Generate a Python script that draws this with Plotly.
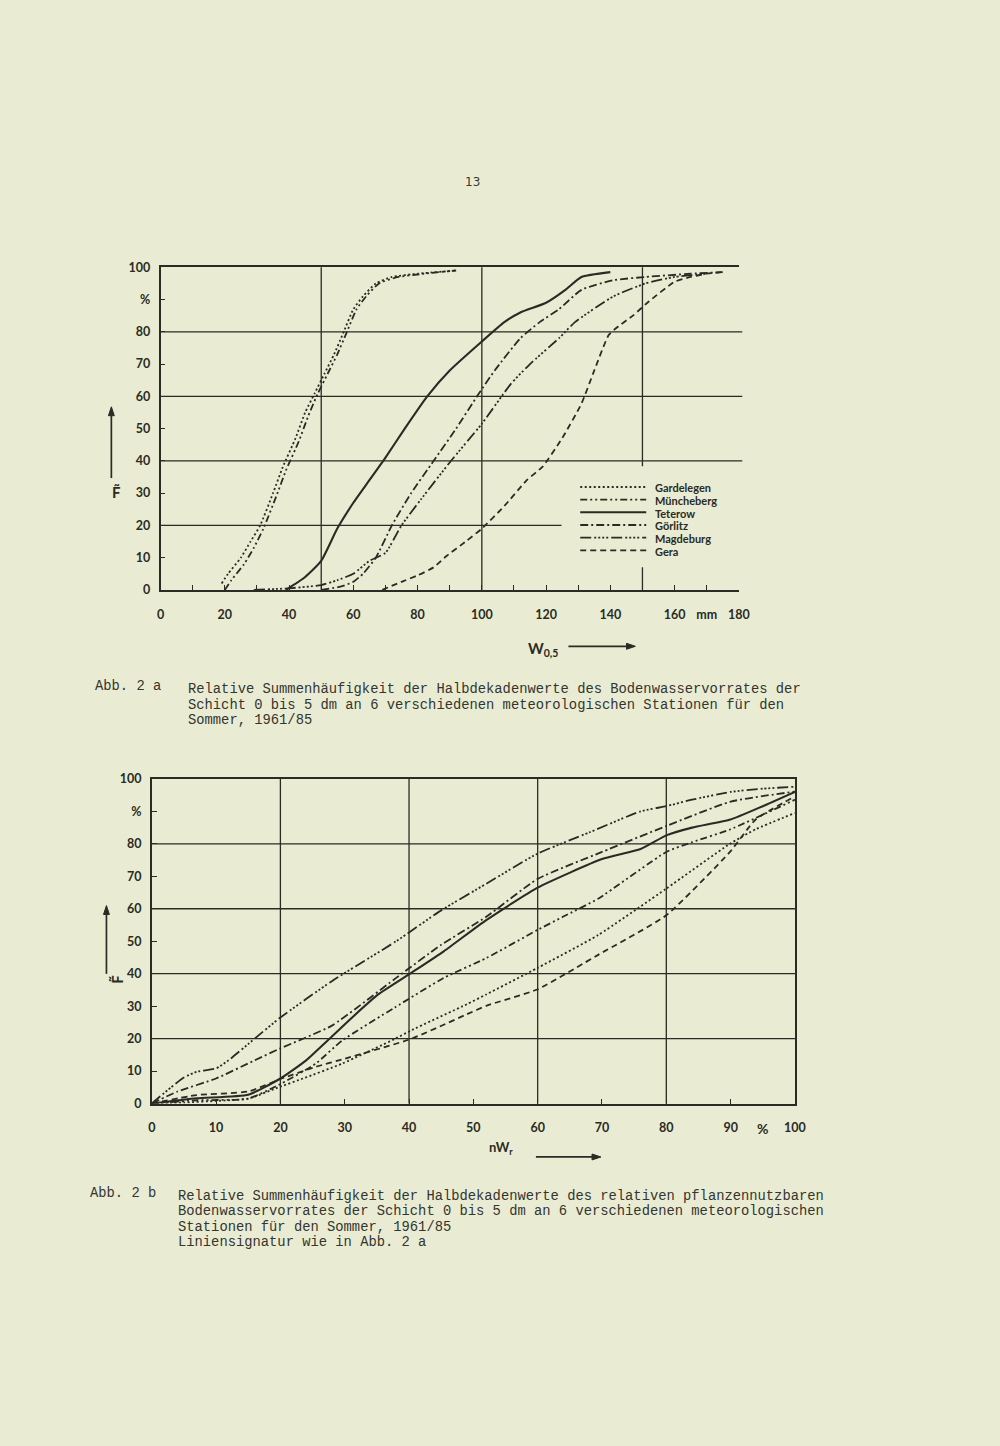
import plotly.graph_objects as go

# page size of the scanned sheet
W = 1000
H = 1446

PAPER = "#E9ECD3"
INK = "#2A2B24"
TICK_FONT = dict(family="Lato", size=12.5, color=INK, weight=700)

STATIONS = ["Gardelegen", "Müncheberg", "Teterow", "Görlitz", "Magdeburg", "Gera"]

# Abb. 2a: W0,5 (mm) against relative cumulative frequency F (%)
gard_a_x = [19, 21, 25, 28, 31, 35, 38, 42, 45, 48, 51, 54, 57, 60, 63, 67, 72, 80, 92]
gard_a_y = [2, 5, 10, 15, 20, 30, 38, 47, 55, 61, 67, 73, 80, 87, 91, 95, 97, 98, 99]
mun_a_x = [20, 22, 26, 29, 32, 36, 39, 43, 46, 49, 52, 55, 58, 61, 64, 68, 74, 82, 92]
mun_a_y = [0, 3, 8, 13, 19, 29, 37, 46, 54, 61, 67, 73, 80, 87, 91, 95, 97, 98, 99]
tet_a_x = [39, 45, 50, 55, 60, 65, 70, 76, 83, 90, 100, 107, 112, 120, 126, 131, 140]
tet_a_y = [0, 4, 9, 19, 27, 34, 41, 50, 60, 68, 77, 83, 86, 89, 93, 97, 98.5]
gor_a_x = [50, 56, 60, 63, 67, 72, 78, 85, 92, 98.5, 104, 112, 118, 124, 131, 141, 151, 165, 175]
gor_a_y = [0, 1, 2.5, 5, 10, 20, 30, 40, 50, 60, 68, 78, 83, 87, 93, 96, 97, 98, 98.5]
mag_a_x = [29, 40, 50, 55, 60, 65, 70, 75, 81, 90, 100, 109, 115, 124, 129, 141, 151, 160, 170]
mag_a_y = [0, 0.5, 1.5, 3, 5, 9, 11.5, 20, 28, 39.5, 51.5, 63.8, 70, 78, 83, 91, 95, 97, 98]
gera_a_x = [69, 75, 80, 85, 89, 95, 100, 107, 114, 119, 125, 131, 135, 139.5, 142.5, 147, 152, 160, 165, 170, 175]
gera_a_y = [0, 2.5, 4.5, 7, 10.5, 15, 19, 26, 34, 38.3, 47, 57.7, 68, 79, 81.7, 85, 89.4, 95.5, 97, 98, 98.5]

# Abb. 2b: nWr (%) against F (%)
gard_b_x = [0, 5, 10, 15, 20, 23.5, 29.6, 37.8, 40.3, 49, 52, 60, 69.4, 80, 89.8, 93.9, 100]
gard_b_y = [0, 0.3, 0.8, 1.5, 5.2, 7.7, 12.3, 19.9, 22.5, 30.6, 33.6, 41.8, 51.9, 66.2, 79.9, 84.5, 89.5]
mun_b_x = [0, 7, 15, 20.2, 25.5, 29.6, 37.8, 45.4, 52, 60, 64, 69.4, 80, 84, 90, 100]
mun_b_y = [0, 1, 1.5, 6.2, 12.3, 19.4, 29.6, 38.7, 44.8, 53.5, 57.6, 63.1, 77.5, 80.5, 84.5, 93.6]
tet_b_x = [0, 7, 15, 20, 24, 27.6, 31.7, 35.2, 40.3, 45.4, 52, 60, 70, 76, 80, 84, 90, 95, 100]
tet_b_y = [0, 1.6, 2.7, 7.7, 13.3, 19.9, 27.5, 33.6, 40.2, 46.9, 56.5, 66.5, 75.3, 78.4, 82.6, 85, 87.5, 91.6, 96]
gor_b_x = [0, 4, 10, 16, 20, 28, 38, 45, 52, 60, 70, 80, 90, 100]
gor_b_y = [0, 3.7, 7.7, 13.3, 17, 24, 38.7, 48.9, 57.5, 69.2, 77.5, 85.5, 93, 96.1]
mag_b_x = [0, 3, 5, 7, 10, 12, 16, 20, 28, 38, 45, 52, 60, 68, 76, 80, 84, 90, 95, 100]
mag_b_y = [0, 5, 8, 9.8, 10.8, 13.4, 20, 26.5, 37.7, 50, 59.5, 67.7, 77, 83.5, 90, 91.6, 93.6, 96, 97, 97.6]
gera_b_x = [0, 7, 15, 20.2, 25.5, 30, 40.3, 49, 52, 60, 69.4, 80, 89.8, 93.9, 100]
gera_b_y = [0, 2.6, 3.7, 7.7, 11.3, 13.8, 19.9, 27.5, 30.1, 35.2, 45.8, 58, 77.3, 87.5, 94.6]

# tick labels (unlabelled tick marks go on the minor ticks)
a_xticks = [0, 20, 40, 60, 80, 100, 120, 140, 160, 170, 180]
a_xtext = ["0", "20", "40", "60", "80", "100", "120", "140", "160", "mm", "180"]
a_xminor = [10, 30, 50, 70, 90, 110, 130, 150]
b_xticks = list(range(0, 101, 10))
b_xtext = ["0", "10", "20", "30", "40", "50", "60", "70", "80", "90", "100"]
f_ticks = list(range(0, 101, 10))
f_text = ["0", "10", "20", "30", "40", "50", "60", "70", "80", "%", "100"]

a_xgrid = [50, 100, 150]
b_xgrid = [20, 40, 60, 80]
f_grid = [20, 40, 60, 80]

# line signatures (same in both figures)
DASHES = ["2px,2.5px", "7px,3px,2px,3px,2px,3px", "solid", "8px,3px,2px,3px",
          "11px,3px,2px,2px,2px,2px,2px,2px,2px,3px", "6px,4px"]
WIDTHS = [1.8, 1.8, 2.1, 1.8, 1.8, 1.8]

series_a = [(gard_a_x, gard_a_y), (mun_a_x, mun_a_y), (tet_a_x, tet_a_y),
            (gor_a_x, gor_a_y), (mag_a_x, mag_a_y), (gera_a_x, gera_a_y)]
series_b = [(gard_b_x, gard_b_y), (mun_b_x, mun_b_y), (tet_b_x, tet_b_y),
            (gor_b_x, gor_b_y), (mag_b_x, mag_b_y), (gera_b_x, gera_b_y)]


def px(x):
    return x / W


def py(y):
    return 1 - y / H


def arrow(x0, y0, x1, y1, head=9, half=3):
    """Return shaft + filled head shapes for an arrow from (x0,y0) to (x1,y1), page pixels."""
    dx, dy = x1 - x0, y1 - y0
    n = (dx * dx + dy * dy) ** 0.5
    ux, uy = dx / n, dy / n
    bx, by = x1 - ux * head, y1 - uy * head
    p1 = (bx - uy * half, by + ux * half)
    p2 = (bx + uy * half, by - ux * half)
    path = "M {} {} L {} {} L {} {} Z".format(px(x1), py(y1), px(p1[0]), py(p1[1]), px(p2[0]), py(p2[1]))
    return [
        dict(type="line", xref="paper", yref="paper", x0=px(x0), y0=py(y0), x1=px(bx), y1=py(by),
             line=dict(color=INK, width=1.7)),
        dict(type="path", xref="paper", yref="paper", path=path, fillcolor=INK,
             line=dict(color=INK, width=1)),
    ]


fig = go.Figure()

for i, name in enumerate(STATIONS):
    line = dict(color=INK, width=WIDTHS[i], dash=DASHES[i], shape="spline", smoothing=0.5)
    xs, ys = series_a[i]
    fig.add_trace(go.Scatter(x=xs, y=ys, mode="lines", name=name, line=line,
                             xaxis="x", yaxis="y", showlegend=False))
    xs, ys = series_b[i]
    fig.add_trace(go.Scatter(x=xs, y=ys, mode="lines", name=name, line=line,
                             xaxis="x2", yaxis="y2", showlegend=False))

axis_common = dict(showline=True, linecolor=INK, linewidth=1.7, showgrid=False, zeroline=False,
                   ticks="inside", ticklen=5, tickwidth=1.3, tickcolor=INK,
                   tickfont=TICK_FONT, tickmode="array", fixedrange=True)

fig.update_layout(
    width=W, height=H,
    margin=dict(l=0, r=0, t=0, b=0),
    paper_bgcolor=PAPER, plot_bgcolor=PAPER,
    xaxis=dict(axis_common, domain=[px(159), px(746)], range=[0, 180], anchor="y",
               tickvals=a_xticks, ticktext=a_xtext, mirror=True, ticklabelstandoff=12,
               minor=dict(tickmode="array", tickvals=a_xminor, ticks="inside", ticklen=5,
                          tickwidth=1.3, tickcolor=INK, showgrid=False)),
    yaxis=dict(axis_common, domain=[py(588), py(262)], range=[0, 100], anchor="x",
               tickvals=f_ticks, ticktext=f_text, mirror=False, ticklabelstandoff=6),
    xaxis2=dict(axis_common, domain=[px(150), px(803)], range=[0, 100], anchor="y2",
                tickvals=b_xticks, ticktext=b_xtext, mirror=True, ticklabelstandoff=12),
    yaxis2=dict(axis_common, domain=[py(1107), py(779)], range=[0, 100], anchor="x2",
                tickvals=f_ticks, ticktext=f_text, mirror=True, ticklabelstandoff=6),
)

shapes = []
grid_line = dict(color=INK, width=1.3)
for v in a_xgrid:
    shapes.append(dict(type="line", layer="below", xref="x", yref="y domain",
                       x0=v, x1=v, y0=0, y1=1, line=grid_line))
for v in f_grid:
    shapes.append(dict(type="line", layer="below", xref="x domain", yref="y",
                       x0=0, x1=1.006, y0=v, y1=v, line=grid_line))
for v in b_xgrid:
    shapes.append(dict(type="line", layer="below", xref="x2", yref="y2 domain",
                       x0=v, x1=v, y0=0, y1=1, line=grid_line))
for v in f_grid:
    shapes.append(dict(type="line", layer="below", xref="x2 domain", yref="y2",
                       x0=0, x1=1, y0=v, y1=v, line=grid_line))

# legend of Abb. 2a, drawn on a blank patch of the grid
shapes.append(dict(type="rect", layer="above", xref="paper", yref="paper",
                   x0=px(566), x1=px(752), y0=py(565), y1=py(463),
                   fillcolor=PAPER, line=dict(width=0)))
annotations = []
for i, name in enumerate(STATIONS):
    yy = py(484 + 12.8 * i)
    shapes.append(dict(type="line", layer="above", xref="paper", yref="paper",
                       x0=px(585), x1=px(652), y0=yy, y1=yy,
                       line=dict(color=INK, width=WIDTHS[i], dash=DASHES[i])))
    annotations.append(dict(text=name, xref="paper", yref="paper", x=px(659), y=py(485 + 12.8 * i),
                            xanchor="left", yanchor="middle", showarrow=False,
                            font=dict(family="Lato", size=11, color=INK, weight=700)))

# arrows next to the axis titles
shapes += arrow(109, 475, 109, 403)
shapes += arrow(573, 645, 641, 645)
shapes += arrow(104, 976, 104, 907)
shapes += arrow(540, 1161, 606, 1161)

label_font = dict(family="Lato", size=15, color=INK, weight=700)

annotations += [
    dict(text="F\u0303", xref="paper", yref="paper", x=px(108), y=py(489), showarrow=False,
         font=label_font),
    dict(text="W<sub>0,5</sub>", xref="paper", yref="paper", x=px(547), y=py(648), showarrow=False,
         font=label_font),
    dict(text="F\u0303", xref="paper", yref="paper", x=px(104), y=py(988), showarrow=False,
         textangle=-90, font=label_font),
    dict(text="nW<sub>r</sub>", xref="paper", yref="paper", x=px(505), y=py(1163), showarrow=False,
         font=dict(family="Lato", size=13, color=INK, weight=700)),
    dict(text="%", xref="x2", yref="y2", x=95, y=0, yanchor="top", yshift=-14, showarrow=False,
         font=dict(family="Lato", size=14, color=INK, weight=700)),
    dict(text="13", xref="paper", yref="paper", x=px(476), y=py(167), showarrow=False,
         font=dict(family="DejaVu Sans", size=12, color="#3a3a34")),
]

# figure captions in typewriter style
CAP_FONT = dict(family="Liberation Mono", size=13.8, color="#34352f")
cap_a = ["Relative Summenhäufigkeit der Halbdekadenwerte des Bodenwasservorrates der",
         "Schicht 0 bis 5 dm an 6 verschiedenen meteorologischen Stationen für den",
         "Sommer, 1961/85"]
cap_b = ["Relative Summenhäufigkeit der Halbdekadenwerte des relativen pflanzennutzbaren",
         "Bodenwasservorrates der Schicht 0 bis 5 dm an 6 verschiedenen meteorologischen",
         "Stationen für den Sommer, 1961/85",
         "Liniensignatur wie in Abb. 2 a"]

annotations.append(dict(text="Abb. 2 a", xref="paper", yref="paper", x=px(90), y=py(686),
                        xanchor="left", yanchor="middle", showarrow=False, font=CAP_FONT))
for i, t in enumerate(cap_a):
    annotations.append(dict(text=t, xref="paper", yref="paper", x=px(185), y=py(689 + 15.5 * i),
                            xanchor="left", yanchor="middle", showarrow=False, font=CAP_FONT))
annotations.append(dict(text="Abb. 2 b", xref="paper", yref="paper", x=px(85), y=py(1198),
                        xanchor="left", yanchor="middle", showarrow=False, font=CAP_FONT))
for i, t in enumerate(cap_b):
    annotations.append(dict(text=t, xref="paper", yref="paper", x=px(175), y=py(1201 + 15.5 * i),
                            xanchor="left", yanchor="middle", showarrow=False, font=CAP_FONT))

fig.update_layout(shapes=shapes, annotations=annotations)

# drop the browser's default page margin and scrollbars so the figure fills the window exactly
fig.write_html("out.html", config={"displayModeBar": False},
               post_script="document.documentElement.style.overflow='hidden';"
                           "document.body.style.overflow='hidden';"
                           "document.body.style.margin='0';"
                           "document.body.style.background='" + PAPER + "';")
